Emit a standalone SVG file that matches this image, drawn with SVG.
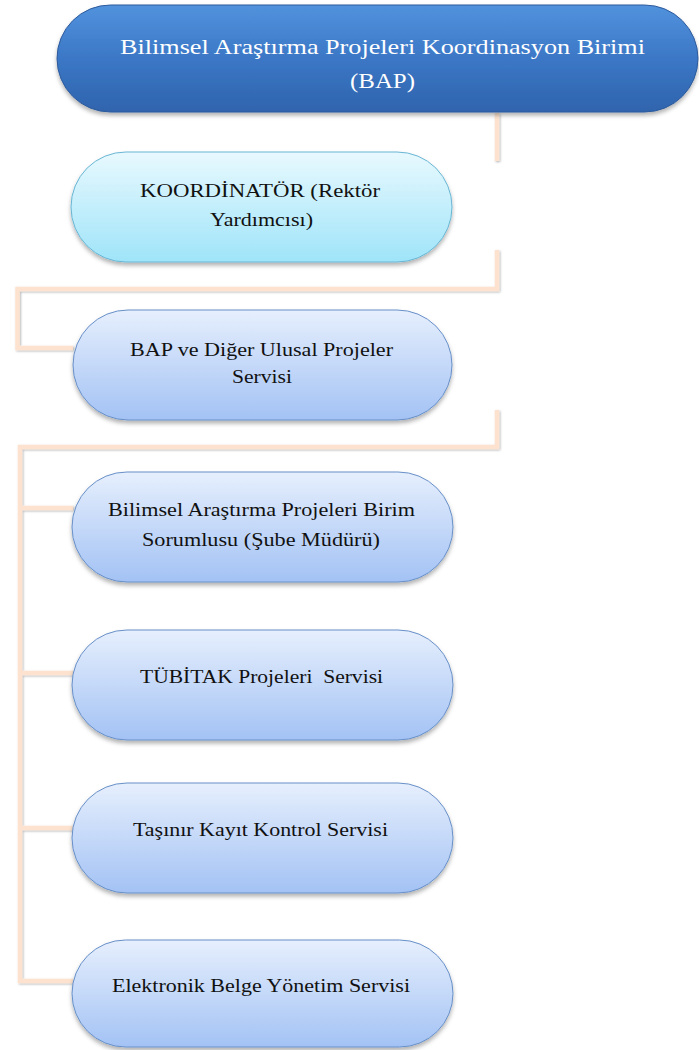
<svg xmlns="http://www.w3.org/2000/svg" width="699" height="1050" viewBox="0 0 699 1050" font-family="'Liberation Serif', 'DejaVu Serif', serif">
<defs>
<linearGradient id="gTop" x1="0" y1="0" x2="0" y2="1">
<stop offset="0" stop-color="#5292dd"/>
<stop offset="0.5" stop-color="#3b77c6"/>
<stop offset="1" stop-color="#2f64ad"/>
</linearGradient>
<linearGradient id="gCyan" x1="0" y1="0" x2="0" y2="1">
<stop offset="0" stop-color="#e8f9fe"/>
<stop offset="1" stop-color="#9fe4f9"/>
</linearGradient>
<linearGradient id="gBlue" x1="0" y1="0" x2="0" y2="1">
<stop offset="0" stop-color="#e6effd"/>
<stop offset="1" stop-color="#a3c2f4"/>
</linearGradient>
<filter id="sh" x="-10%" y="-20%" width="120%" height="150%">
<feDropShadow dx="0" dy="3" stdDeviation="2" flood-color="#000" flood-opacity="0.3"/>
</filter>
<filter id="lsh" x="-50%" y="-50%" width="200%" height="200%">
<feDropShadow dx="1" dy="1" stdDeviation="1" flood-color="#000" flood-opacity="0.3"/>
</filter>
</defs>
<style>
.conn{fill:none;stroke:#fde3cf;stroke-width:4.5;stroke-linejoin:miter;stroke-linecap:butt}
.top{fill:url(#gTop);stroke:#2d5b9c;stroke-width:1}
.cyan{fill:url(#gCyan);stroke:#69b6d4;stroke-width:1}
.blue{fill:url(#gBlue);stroke:#6890c8;stroke-width:1}
text{font-family:'Liberation Serif','DejaVu Serif',serif;text-anchor:middle}
.tw{fill:#ffffff;font-size:21px}
.tb{fill:#111111;font-size:18px}
</style>
<g id="connectors" filter="url(#lsh)">
<path class="conn" d="M497,113 V161"/>
<path class="conn" d="M497,250 V289 H17.5 V348 H73"/>
<path class="conn" d="M497,410 V447 H20 V981 H73"/>
<path class="conn" d="M20,508 H73"/>
<path class="conn" d="M20,673 H73"/>
<path class="conn" d="M20,828 H73"/>
</g>
<g id="node-bap-birimi">
<rect class="top" x="57" y="5" width="641" height="107" rx="53.5" ry="53.5" filter="url(#sh)"/>
<text class="tw" x="382.5" y="54" textLength="525" lengthAdjust="spacingAndGlyphs">Bilimsel Araştırma Projeleri Koordinasyon Birimi</text>
<text class="tw" x="382.5" y="88" textLength="65" lengthAdjust="spacingAndGlyphs">(BAP)</text>
</g>
<g id="node-koordinator">
<rect class="cyan" x="71" y="152" width="381" height="110" rx="55" ry="55" filter="url(#sh)"/>
<text class="tb" x="260" y="197" textLength="240" lengthAdjust="spacingAndGlyphs">KOORDİNATÖR (Rektör</text>
<text class="tb" x="261.5" y="226" textLength="103" lengthAdjust="spacingAndGlyphs">Yardımcısı)</text>
</g>
<g id="node-bap-servisi">
<rect class="blue" x="73" y="310" width="379" height="110" rx="55" ry="55" filter="url(#sh)"/>
<text class="tb" x="261.5" y="356" textLength="263" lengthAdjust="spacingAndGlyphs">BAP ve Diğer Ulusal Projeler</text>
<text class="tb" x="262" y="383" textLength="60" lengthAdjust="spacingAndGlyphs">Servisi</text>
</g>
<g id="node-birim-sorumlusu">
<rect class="blue" x="72" y="472" width="381" height="110" rx="55" ry="55" filter="url(#sh)"/>
<text class="tb" x="261.5" y="516" textLength="307" lengthAdjust="spacingAndGlyphs">Bilimsel Araştırma Projeleri Birim</text>
<text class="tb" x="261" y="546" textLength="238" lengthAdjust="spacingAndGlyphs">Sorumlusu (Şube Müdürü)</text>
</g>
<g id="node-tubitak">
<rect class="blue" x="72" y="630" width="381" height="110" rx="55" ry="55" filter="url(#sh)"/>
<text class="tb" x="261.5" y="683" textLength="243" lengthAdjust="spacingAndGlyphs" xml:space="preserve">TÜBİTAK Projeleri  Servisi</text>
</g>
<g id="node-tasinir">
<rect class="blue" x="72" y="783" width="381" height="110" rx="55" ry="55" filter="url(#sh)"/>
<text class="tb" x="260.5" y="836" textLength="255" lengthAdjust="spacingAndGlyphs">Taşınır Kayıt Kontrol Servisi</text>
</g>
<g id="node-elektronik">
<rect class="blue" x="72" y="940" width="381" height="107" rx="53.5" ry="53.5" filter="url(#sh)"/>
<text class="tb" x="261" y="992" textLength="298" lengthAdjust="spacingAndGlyphs">Elektronik Belge Yönetim Servisi</text>
</g>
</svg>
